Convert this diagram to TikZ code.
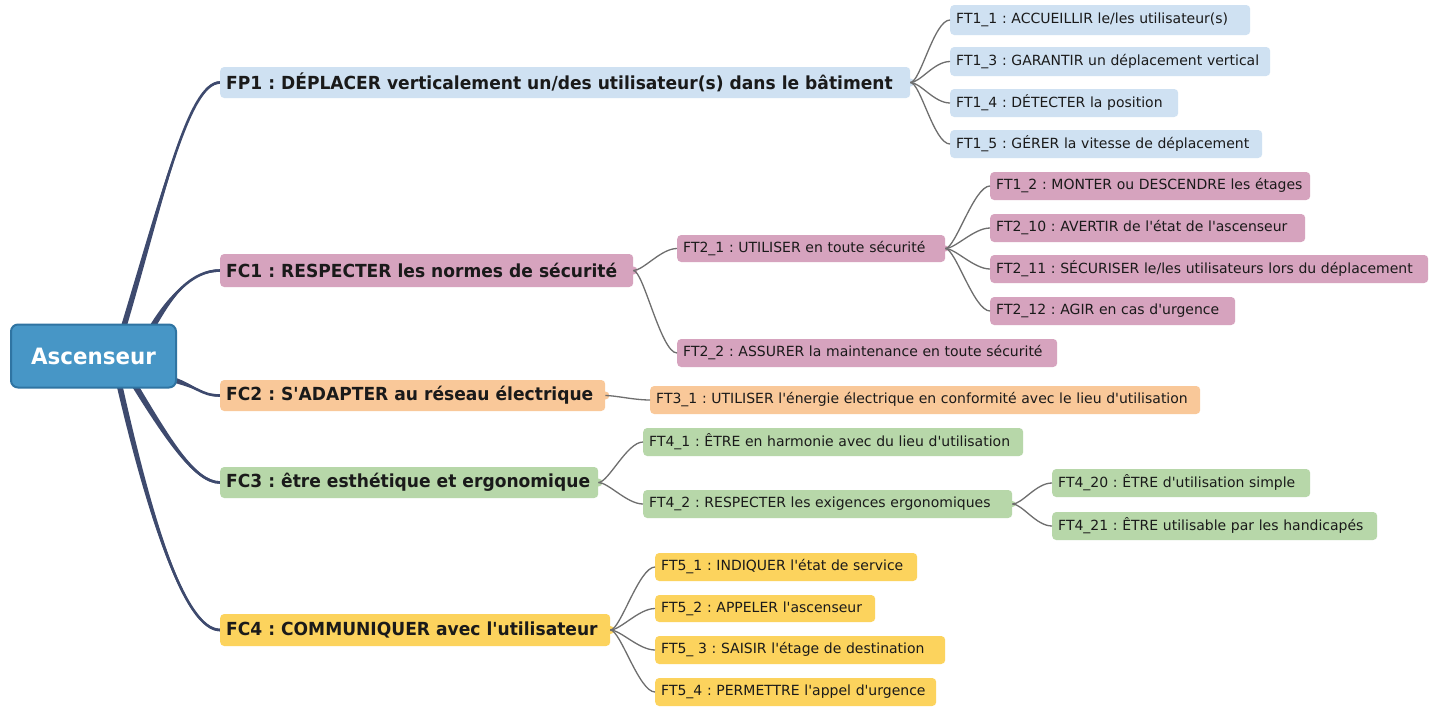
\documentclass[tikz,border=0pt]{standalone}
\usepackage{fontspec}
\usetikzlibrary{calc}
\newfontfamily\fsmall{DejaVu Sans}
\newfontfamily\fbig{DejaVu Sans}[FakeStretch=0.95]
\definecolor{cRoot}{HTML}{4796C6}
\definecolor{cRootB}{HTML}{2F74A2}
\definecolor{cBlue}{HTML}{CFE1F2}
\definecolor{cPink}{HTML}{D6A3BE}
\definecolor{cOrange}{HTML}{F9C899}
\definecolor{cGreen}{HTML}{B7D7A9}
\definecolor{cYellow}{HTML}{FCD35D}
\definecolor{cTrunk}{HTML}{3E4A6E}
\definecolor{cLink}{HTML}{6E6E6E}
\definecolor{cTxt}{HTML}{1A1A1A}
\frenchspacing
\pgfdeclarelayer{bg}
\pgfsetlayers{bg,main}
% tapered trunk: start, control 1, control 2, end, start half-width vector (x,y)
\newcommand\taper[6]{%
  \draw[cTrunk, line width=2.6pt] #1 .. controls #2 and #3 .. #4;
  \fill[cTrunk] ($#1+(#5,#6)$) .. controls ($#2+(0.8*#5,0.8*#6)$) and ($#3+(0,-1.3)$) .. ($#4+(0,-1.3)$)
    -- ($#4+(0,1.3)$) .. controls ($#3+(0,1.3)$) and ($#2-(0.8*#5,0.8*#6)$) .. ($#1-(#5,#6)$) -- cycle;}
\begin{document}
\begin{tikzpicture}[x=1pt,y=-1pt,
  ft/.style={anchor=west, rounded corners=4pt, inner xsep=6pt, inner ysep=0pt,
    align=left, text=cTxt, minimum height=28pt, font=\fsmall\fontsize{14}{16}\selectfont},
  fc/.style={anchor=west, rounded corners=4pt, inner xsep=6pt, inner ysep=0pt,
    align=left, text=cTxt, minimum height=32pt, font=\fbig\bfseries\fontsize{18}{21}\selectfont},
  link/.style={draw=cLink, line width=1.3pt},
  bump/.style={radius=4pt}]
\useasboundingbox (0,0) rectangle (1434,707);
\begin{pgfonlayer}{bg}
\fill[white] (0,0) rectangle (1434,707);
\end{pgfonlayer}

% root
\node[anchor=west, fill=cRoot, draw=cRootB, line width=2pt, rounded corners=7pt,
  minimum width=165pt, minimum height=63pt, text=white,
  font=\fbig\bfseries\fontsize{22.5}{26}\selectfont] (root) at (10,356) {Ascenseur};

% main branches
\node[fc, fill=cBlue, text width=678pt, minimum height=31pt] (fp1) at (220,82.5) {FP1 : DÉPLACER verticalement un/des utilisateur(s) dans le bâtiment};
\node[fc, fill=cPink, text width=401pt, minimum height=33pt] (fc1) at (220,270.5) {FC1 : RESPECTER les normes de sécurité};
\node[fc, fill=cOrange, text width=373pt, minimum height=31pt] (fc2) at (220,395.5) {FC2 : S'ADAPTER au réseau électrique};
\node[fc, fill=cGreen, text width=366pt, minimum height=31pt] (fc3) at (220,482.5) {FC3 : être esthétique et ergonomique};
\node[fc, fill=cYellow, text width=378pt, minimum height=32pt] (fc4) at (220,630) {FC4 : COMMUNIQUER avec l'utilisateur};

% FP1 children
\node[ft, fill=cBlue, text width=288pt, minimum height=30pt] (ft11) at (950,20) {FT1\_1 : ACCUEILLIR le/les utilisateur(s)};
\node[ft, fill=cBlue, text width=308pt, minimum height=29pt] (ft13) at (950,61.5) {FT1\_3 : GARANTIR un déplacement vertical};
\node[ft, fill=cBlue, text width=216pt] (ft14) at (950,103) {FT1\_4 : DÉTECTER la position};
\node[ft, fill=cBlue, text width=300pt] (ft15) at (950,144) {FT1\_5 : GÉRER la vitesse de déplacement};

% FC1 children
\node[ft, fill=cPink, text width=256pt, minimum height=27pt] (ft21) at (677,248.5) {FT2\_1 : UTILISER en toute sécurité};
\node[ft, fill=cPink, text width=368pt] (ft22) at (677,353) {FT2\_2 : ASSURER la maintenance en toute sécurité};
\node[ft, fill=cPink, text width=308pt] (ft12) at (990,186) {FT1\_2 : MONTER ou DESCENDRE les étages};
\node[ft, fill=cPink, text width=303pt] (ft210) at (990,228) {FT2\_10 : AVERTIR de l'état de l'ascenseur};
\node[ft, fill=cPink, text width=426pt] (ft211) at (990,269) {FT2\_11 : SÉCURISER le/les utilisateurs lors du déplacement};
\node[ft, fill=cPink, text width=233pt] (ft212) at (990,311) {FT2\_12 : AGIR en cas d'urgence};

% FC2 child
\node[ft, fill=cOrange, text width=538pt] (ft31) at (650,400) {FT3\_1 : UTILISER l'énergie électrique en conformité avec le lieu d'utilisation};

% FC3 children
\node[ft, fill=cGreen, text width=368pt] (ft41) at (643,442) {FT4\_1 : ÊTRE en harmonie avec du lieu d'utilisation};
\node[ft, fill=cGreen, text width=357pt] (ft42) at (643,504) {FT4\_2 : RESPECTER les exigences ergonomiques};
\node[ft, fill=cGreen, text width=246pt] (ft420) at (1052,483) {FT4\_20 : ÊTRE d'utilisation simple};
\node[ft, fill=cGreen, text width=313pt] (ft421) at (1052,526) {FT4\_21 : ÊTRE utilisable par les handicapés};

% FC4 children
\node[ft, fill=cYellow, text width=250pt] (ft51) at (655,567) {FT5\_1 : INDIQUER l'état de service};
\node[ft, fill=cYellow, text width=208pt, minimum height=27pt] (ft52) at (655,608.5) {FT5\_2 : APPELER l'ascenseur};
\node[ft, fill=cYellow, text width=278pt] (ft53) at (655,650) {FT5\_ 3 : SAISIR l'étage de destination};
\node[ft, fill=cYellow, text width=269pt] (ft54) at (655,692) {FT5\_4 : PERMETTRE l'appel d'urgence};

% bumps
\fill[cBlue] (fp1.east) circle[bump];
\fill[cPink] (fc1.east) circle[bump];
\fill[cOrange] (fc2.east) circle[bump];
\fill[cGreen] (fc3.east) circle[bump];
\fill[cYellow] (fc4.east) circle[bump];
\fill[cPink] (ft21.east) circle[radius=3pt];
\fill[cGreen] (ft42.east) circle[radius=3pt];

% sub links
\foreach \c in {ft11,ft13,ft14,ft15}
  \draw[link] (fp1.east) .. controls +(10,0) and +(-16,0) .. (\c.west);
\foreach \c in {ft21,ft22}
  \draw[link] (fc1.east) .. controls +(10,0) and +(-16,0) .. (\c.west);
\foreach \c in {ft12,ft210,ft211,ft212}
  \draw[link] (ft21.east) .. controls +(10,0) and +(-16,0) .. (\c.west);
\draw[link] (fc2.east) .. controls +(10,0) and +(-16,0) .. (ft31.west);
\foreach \c in {ft41,ft42}
  \draw[link] (fc3.east) .. controls +(10,0) and +(-16,0) .. (\c.west);
\foreach \c in {ft420,ft421}
  \draw[link] (ft42.east) .. controls +(10,0) and +(-16,0) .. (\c.west);
\foreach \c in {ft51,ft52,ft53,ft54}
  \draw[link] (fc4.east) .. controls +(10,0) and +(-16,0) .. (\c.west);

% trunks (tapered, behind the root box)
\coordinate (s1) at ($(root.north)+(27,14)$);
\coordinate (s2) at ($(root.north)+(54,12)$);
\coordinate (s3) at ($(root.east)+(-10,22)$);
\coordinate (s4) at ($(root.south)+(36,-12)$);
\coordinate (s5) at ($(root.south)+(24,-12)$);
\begin{pgfonlayer}{bg}
\taper{(s1)}{(162,200)}{(188,82.5)}{(fp1.west)}{3}{0}
\taper{(s2)}{(170,295)}{(192,270.5)}{(fc1.west)}{2.3}{2.3}
\taper{(s3)}{(198,386)}{(200,395.5)}{(fc2.west)}{0}{3}
\taper{(s4)}{(168,440)}{(195,482.5)}{(fc3.west)}{2.3}{-2.3}
\taper{(s5)}{(150,520)}{(185,630)}{(fc4.west)}{3}{0}
\end{pgfonlayer}
\end{tikzpicture}
\end{document}
